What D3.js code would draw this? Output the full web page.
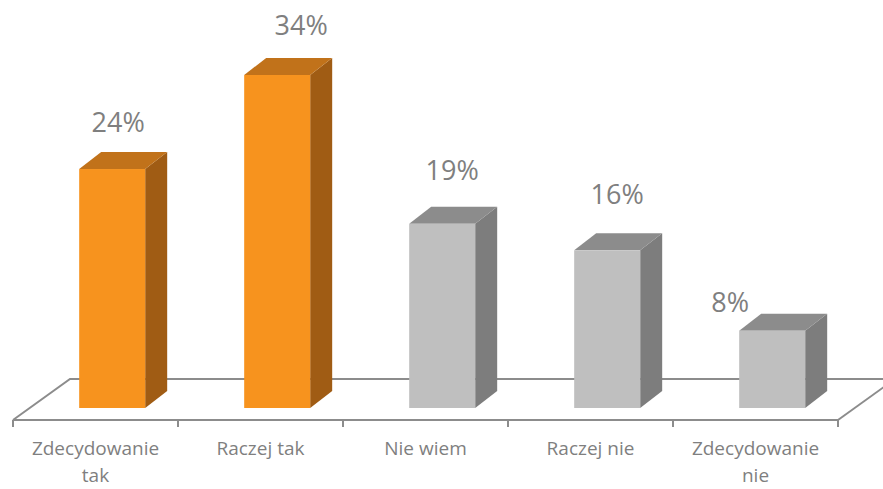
<!DOCTYPE html>
<html>
<head>
<meta charset="utf-8">
<script src="https://cdn.jsdelivr.net/npm/d3@7"></script>
<style>
  body { margin: 0; background: #fff; }
  svg { display: block; font-family: "Open Sans", sans-serif; }
</style>
</head>
<body>
<div id="chart"></div>
<script>
// dane
const categories = ["Zdecydowanie tak", "Raczej tak", "Nie wiem", "Raczej nie", "Zdecydowanie nie"];
const values = [24.4, 34, 18.8, 16.1, 7.9];
const valueLabels = ["24%", "34%", "19%", "16%", "8%"];
const highlighted = [true, true, false, false, false];

const width = 883, height = 489;
const floorFront = 420, floorDepth = { dx: 57, dy: -41 };
const barDepth = { dx: 22, dy: -17 };
const barBase = 408;
// przesunięcia etykiet (jak w oryginale, ręcznie przesuwane)
const labelDx = [6, 24, 10, 10, -42];
const labelDy = [1, -2, -6, -8, 19];

const svg = d3.select("#chart").append("svg")
  .attr("width", width).attr("height", height);

const x = d3.scaleBand().domain(categories).range([13, 838]).padding(0);
const y = d3.scaleLinear().domain([0, 34]).range([barBase, 75]);
const barW = x.bandwidth() * 0.4;
const shift = (floorFront - barBase) * floorDepth.dx / -floorDepth.dy;

const colors = {
  orange: { front: "#f7931e", top: "#c1721a", side: "#a05c14" },
  gray: { front: "#bfbfbf", top: "#8c8c8c", side: "#7d7d7d" }
};

// podłoga
const x0 = x.range()[0], x1 = x.range()[1];
const floorColor = "#8c8c8c";
svg.append("path")
  .attr("d", `M${x0},${floorFront} L${x0 + floorDepth.dx},${floorFront + floorDepth.dy} L${x1 + floorDepth.dx},${floorFront + floorDepth.dy}`)
  .attr("fill", "none").attr("stroke", floorColor).attr("stroke-width", 2);
svg.append("path")
  .attr("d", `M${x1},${floorFront} L${x1 + floorDepth.dx},${floorFront + floorDepth.dy}`)
  .attr("fill", "none").attr("stroke", floorColor).attr("stroke-width", 2);

// słupki 3D
const bars = svg.selectAll(".bar").data(values).enter().append("g").attr("class", "bar");
bars.each(function (d, i) {
  const g = d3.select(this);
  const c = highlighted[i] ? colors.orange : colors.gray;
  const fx = x(categories[i]) + shift + (x.bandwidth() - barW) / 2;
  const top = y(d);
  const bx = barDepth.dx, by = barDepth.dy;
  g.append("path")
    .attr("d", `M${fx + barW},${barBase} L${fx + barW},${top} L${fx + barW + bx},${top + by} L${fx + barW + bx},${barBase + by} Z`)
    .attr("fill", c.side);
  g.append("path")
    .attr("d", `M${fx},${top} L${fx + bx},${top + by} L${fx + barW + bx},${top + by} L${fx + barW},${top} Z`)
    .attr("fill", c.top);
  g.append("rect")
    .attr("x", fx).attr("y", top).attr("width", barW).attr("height", barBase - top)
    .attr("fill", c.front);
  g.append("text")
    .attr("x", fx + barW / 2 + labelDx[i])
    .attr("y", top - 38 + labelDy[i])
    .attr("text-anchor", "middle")
    .attr("font-size", 27)
    .attr("fill", "#7f7f7f")
    .text(valueLabels[i]);
});

// oś X (przednia krawędź)
svg.append("line")
  .attr("x1", x0).attr("x2", x1).attr("y1", floorFront).attr("y2", floorFront)
  .attr("stroke", floorColor).attr("stroke-width", 2);
const tickPos = categories.map(c => x(c)).concat([x1]);
svg.selectAll(".tick").data(tickPos).enter().append("line")
  .attr("x1", d => d).attr("x2", d => d)
  .attr("y1", floorFront).attr("y2", floorFront + 7)
  .attr("stroke", floorColor).attr("stroke-width", 2);

const labels = svg.selectAll(".cat").data(categories).enter().append("text")
  .attr("class", "cat")
  .attr("text-anchor", "middle")
  .attr("font-size", 19)
  .attr("fill", "#7f7f7f");
labels.each(function (d) {
  const t = d3.select(this);
  const cx = x(d) + x.bandwidth() / 2;
  const words = d.startsWith("Zdecydowanie") ? ["Zdecydowanie", d.replace("Zdecydowanie ", "")] : [d];
  words.forEach((w, k) => {
    t.append("tspan").attr("x", cx).attr("y", 455 + k * 26.5).text(w);
  });
});
</script>
</body>
</html>
